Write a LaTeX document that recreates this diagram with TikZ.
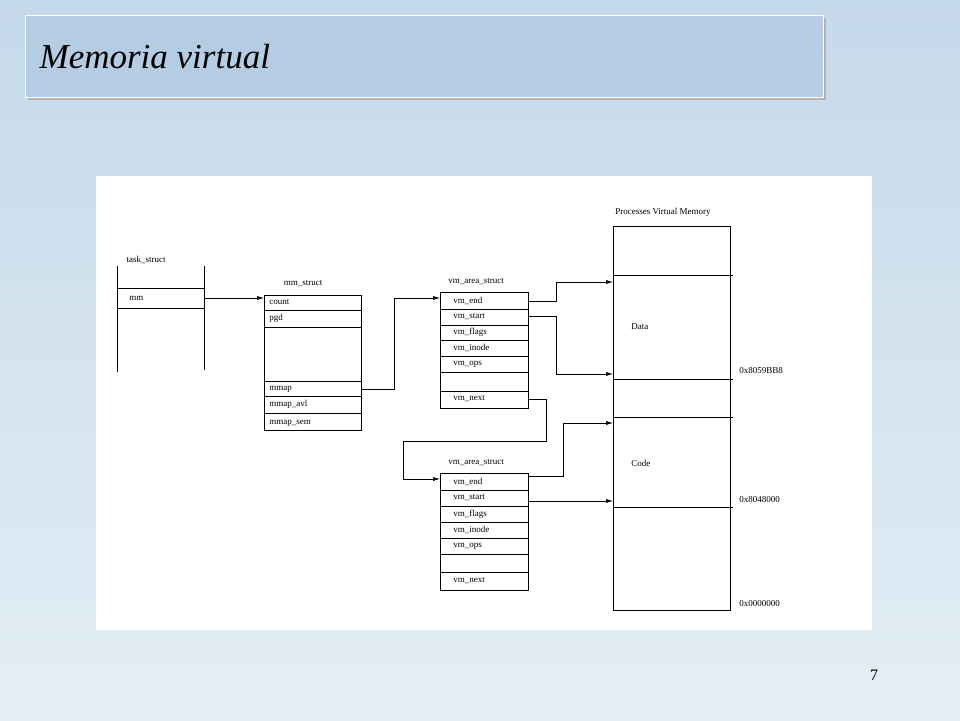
\documentclass[tikz,border=0pt]{standalone}
\usepackage{fontspec}
\setmainfont{Liberation Serif}
\usetikzlibrary{arrows.meta}
\definecolor{bgtop}{HTML}{C4D9EA}
\definecolor{bgbot}{HTML}{E4EEF5}
\definecolor{titlefill}{HTML}{B4CDE2}
\tikzset{
  lbl/.style={font=\fontsize{9}{10}\selectfont, inner sep=1pt},
  link/.style={-{Latex[length=7pt,width=4pt]}, line width=0.6pt},
}
\begin{document}
\begin{tikzpicture}[x=1pt,y=-1pt,line width=0.6pt]
\useasboundingbox (0,0) rectangle (960,720);
%background
\shade[top color=bgtop, bottom color=bgbot] (0,0) rectangle (960,720);
\fill[gray!60] (28,18) rectangle (826,100);
\draw[fill=titlefill, draw=white] (25,15) rectangle (823,97);
\node[anchor=west, font=\fontsize{35}{40}\selectfont\itshape] (title) at (36,57) {Memoria virtual};
\fill[white] (96,176) rectangle (872,630);
\node[font=\fontsize{16}{18}\selectfont] (page) at (874,675) {7};

%task_struct
\node[lbl] (tasklbl) at (146,260) {task\_struct};
\draw (117,266) -- (117,372);
\draw (204,266) -- (204,370);
\draw (117,288) -- (204,288);
\draw (117,308) -- (204,308);
\node[lbl, anchor=west] (mm) at (128,298) {mm};
\coordinate (mmout) at (204,298);

%mm_struct
\node[lbl] (mmlbl) at (303,284) {mm\_struct};
\draw (264,295) rectangle (361,430);
\foreach \y in {310,327,381,396,413} \draw (264,\y) -- (361,\y);
\node[lbl, anchor=west] (count) at (268,302) {count};
\node[lbl, anchor=west] (pgd) at (268,318) {pgd};
\node[lbl, anchor=west] (mmap) at (268,389) {mmap};
\node[lbl, anchor=west] (mmapavl) at (268,404) {mmap\_avl};
\node[lbl, anchor=west] (mmapsem) at (268,423) {mmap\_sem};
\coordinate (mmin) at (264,298);
\coordinate (mmapout) at (361,389);

%vm_area_struct 1
\node[lbl] (vmalbl) at (476,282) {vm\_area\_struct};
\draw (440,292) rectangle (528,408);
\foreach \y in {309,325,340,356,372,391} \draw (440,\y) -- (528,\y);
\foreach \t/\y/\n in {vm\_end/301/a, vm\_start/317/b, vm\_flags/332/c, vm\_inode/348/d, vm\_ops/364/e, vm\_next/399/f}
  \node[lbl, anchor=west] (vma\n) at (452,\y) {\t};
\coordinate (vmain) at (440,298);

%vm_area_struct 2
\node[lbl] (vmblbl) at (476,463) {vm\_area\_struct};
\draw (440,473) rectangle (528,590);
\foreach \y in {490,506,522,538,554,572} \draw (440,\y) -- (528,\y);
\foreach \t/\y/\n in {vm\_end/482/a, vm\_start/498/b, vm\_flags/514/c, vm\_inode/530/d, vm\_ops/546/e, vm\_next/581/f}
  \node[lbl, anchor=west] (vmb\n) at (452,\y) {\t};
\coordinate (vmbin) at (440,479);

%virtual memory
\node[lbl] (vmemlbl) at (663,212) {Processes Virtual Memory};
\draw (613,226) rectangle (730,610);
\foreach \y in {275,379,417,507} \draw (613,\y) -- (733,\y);
\node[lbl, anchor=west] (data) at (630,327) {Data};
\node[lbl, anchor=west] (code) at (630,463) {Code};
\node[lbl, anchor=west] (adra) at (738,371) {0x8059BB8};
\node[lbl, anchor=west] (adrb) at (738,500) {0x8048000};
\node[lbl, anchor=west] (adrc) at (738,604) {0x0000000};
\coordinate (dtop) at (613,282);
\coordinate (dbot) at (613,374);
\coordinate (ctop) at (613,423);
\coordinate (cbot) at (613,501);

%links
\draw[link] (mmout) -- (mmin);
\draw[link] (mmapout) -| (394,298) -- (vmain);
\draw[link] (528,301) -| (556,282) -- (dtop);
\draw[link] (528,316) -| (556,374) -- (dbot);
\draw[link] (528,399) -| (546,441) -| (403,479) -- (vmbin);
\draw[link] (528,476) -| (563,423) -- (ctop);
\draw[link] (528,501) -- (cbot);
\end{tikzpicture}
\end{document}
